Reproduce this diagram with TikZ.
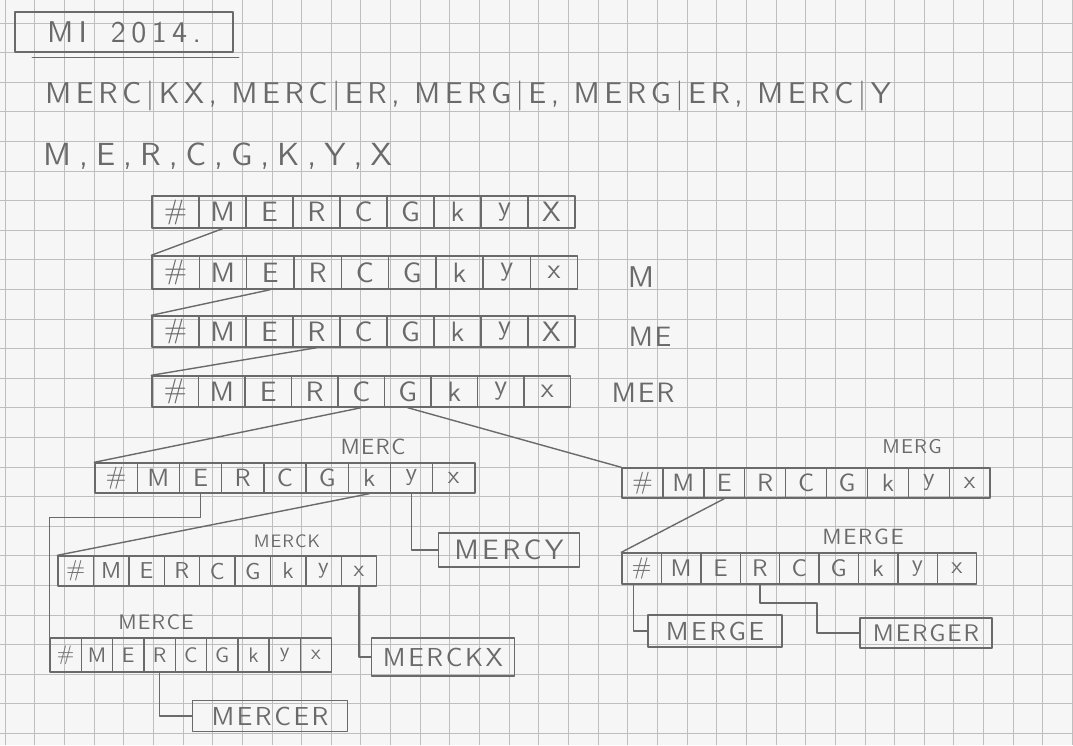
\documentclass[tikz,border=0pt]{standalone}
\usepackage{fontspec}
\newfontfamily\hand{lmsans10-regular.otf}
\usetikzlibrary{calc}
\definecolor{pen}{HTML}{6A6A6A}
\definecolor{gridc}{HTML}{BEBEBE}
\definecolor{paper}{HTML}{F6F6F6}
\newcommand\hf[2]{\hand\fontsize{#1}{#1}\selectfont\addfontfeature{LetterSpace=#2}}
\tikzset{
  pencil/.style={draw=pen, line width=1.4pt, line cap=round, line join=round},
  gridline/.style={draw=gridc, line width=0.7pt},
  cell/.style={pencil, inner sep=0pt, text=pen},
  leaf/.style={pencil, inner sep=0pt, text=pen},
  lbl/.style={text=pen, inner sep=0pt},
}
% name, x0, top, cell width, height, font size, letters
\newcommand\trierow[7]{%
  \foreach \c [count=\i] in {#7} {%
    \node[cell, minimum width=#4pt, minimum height=#5pt, font=\hf{#6}{0}]
      (#1-\i) at ({#2+(\i-0.5)*#4}, {#3+#5/2}) {\c};
  }%
}
\begin{document}
\begin{tikzpicture}[x=1pt,y=-1pt]
\useasboundingbox (0,0) rectangle (1073,745);
\fill[paper] (0,0) rectangle (1073,745);
% squared paper
\foreach \k in {0,...,36} \draw[gridline] ({5+29.65*\k},0) -- ({5+29.65*\k},745);
\foreach \k in {0,...,24} \draw[gridline] (0,{23+29.6*\k}) -- (1073,{23+29.6*\k});

% header
\node[pencil, text=pen, minimum width=218pt, minimum height=40pt, inner sep=0pt,
      font=\hf{30}{18}] (title) at (124,32) {MI\hspace{24pt}2014.};
\draw[pencil] ([xshift=18pt,yshift=-5pt]title.south west) -- ([xshift=5pt,yshift=-5pt]title.south east);
\node[lbl, anchor=west, font=\hf{30}{15}] (words) at (45,96) {MERC|KX, MERC|ER, MERG|E, MERG|ER, MERC|Y};
\node[lbl, anchor=west, font=\hf{32}{25}] (letters) at (43,156) {M,E,R,C,G,K,Y,X};

% trie rows
\trierow{A1}{152}{196}{47}{32}{28}{\#,M,E,R,C,G,k,y,X}
\trierow{A2}{152}{256}{47.3}{33}{28}{\#,M,E,R,C,G,k,y,x}
\trierow{A3}{152}{316}{47}{31}{28}{\#,M,E,R,C,G,k,y,X}
\trierow{A4}{152}{376}{46.5}{31}{28}{\#,M,E,R,C,G,k,y,x}
\trierow{A5}{95}{463}{42.2}{30}{25}{\#,M,E,R,C,G,k,y,x}
\trierow{A6}{622}{468}{40.9}{30}{25}{\#,M,E,R,C,G,k,y,x}
\trierow{A7}{58}{556}{35.4}{30}{23}{\#,M,E,R,C,G,k,y,x}
\trierow{A8}{50}{638}{31.3}{34}{21}{\#,M,E,R,C,G,k,y,x}
\trierow{A9}{622}{553}{39.4}{31}{24}{\#,M,E,R,C,G,k,y,x}

% prefix labels
\node[lbl, font=\hf{30}{6}] (lM) at (641,277) {M};
\node[lbl, font=\hf{28}{6}] (lME) at (650,337) {ME};
\node[lbl, font=\hf{28}{6}] (lMER) at (643,393) {MER};
\node[lbl, font=\hf{22}{6}] (lMERC) at (373,447) {MERC};
\node[lbl, font=\hf{20}{6}] (lMERG) at (912,447) {MERG};
\node[lbl, font=\hf{18}{6}] (lMERCK) at (287,541) {MERCK};
\node[lbl, font=\hf{22}{8}] (lMERGE) at (863,537) {MERGE};
\node[lbl, font=\hf{21}{6}] (lMERCE) at (156,622) {MERCE};

% leaves
\node[leaf, minimum width=141pt, minimum height=34pt, font=\hf{28}{12}] (mercy) at (509,550) {MERCY};
\node[leaf, minimum width=143pt, minimum height=38pt, font=\hf{26}{10}] (merckx) at (443,657) {MERCKX};
\node[leaf, minimum width=155pt, minimum height=31pt, font=\hf{26}{10}] (mercer) at (270,716) {MERCER};
\node[leaf, minimum width=134pt, minimum height=32pt, font=\hf{26}{10}] (mergeL) at (715,631) {MERGE};
\node[leaf, minimum width=132pt, minimum height=30pt, font=\hf{24}{8}] (mergerL) at (926,633) {MERGER};

% connectors
\draw[pencil] (A1-2.south) -- (A2-1.north west);
\draw[pencil] (A2-3.south) -- (A3-1.north west);
\draw[pencil] (A3-4.south) -- (A4-1.north west);
\draw[pencil] (A4-5.south) -- (A5-1.north west);
\draw[pencil] (A4-6.south) -- (A6-1.north west);
\draw[pencil] (A5-3.south) -- ++(0,24) -| (A8-1.north west);
\draw[pencil] (A5-7.south) -- (A7-1.north west);
\draw[pencil] (A5-8.south) |- (mercy.west);
\draw[pencil] (A7-9.south) |- (merckx.west);
\draw[pencil] (A8-4.south) |- (mercer.west);
\draw[pencil] (A6-3.south) -- (A9-1.north west);
\draw[pencil] ([xshift=-8pt]A9-1.south) |- (mergeL.west);
\coordinate (bendR) at (817,603);
\draw[pencil] (A9-4.south) |- (bendR) |- (mergerL.west);
\end{tikzpicture}
\end{document}
